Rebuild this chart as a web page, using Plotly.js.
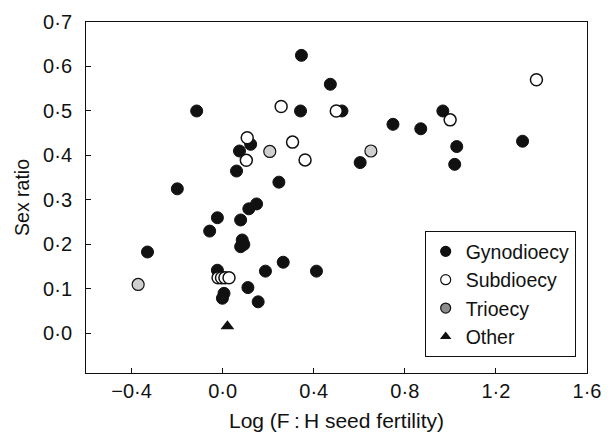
<!DOCTYPE html>
<html>
<head>
<meta charset="utf-8">
<script src="https://cdn.plot.ly/plotly-3.0.1.min.js"></script>
<style>html,body{margin:0;padding:0;background:#fff;}#chart{width:611px;height:432px;}</style>
</head>
<body>
<div id="chart"></div>
<script>
// Gynodioecy (filled black circles)
const gynoX = [0.346, 0.473, -0.114, 0.342, 0.524, 0.123, 0.074, 0.061, 0.247, -0.199,
               0.748, 0.870, 0.967, 1.028, 1.019, 1.317, 0.604, 0.149, 0.115, -0.023,
               0.079, -0.057, 0.086, 0.093, 0.079, -0.330, -0.023, 0.188, 0.266, 0.412,
               0.111, 0.006, -0.001, 0.156];
const gynoY = [0.625, 0.560, 0.500, 0.500, 0.500, 0.425, 0.410, 0.365, 0.340, 0.325,
               0.470, 0.460, 0.500, 0.420, 0.380, 0.432, 0.384, 0.291, 0.280, 0.260,
               0.255, 0.230, 0.210, 0.200, 0.195, 0.183, 0.142, 0.140, 0.160, 0.140,
               0.103, 0.090, 0.079, 0.071];
// Subdioecy (open circles)
const subX = [0.257, 0.499, 0.108, 0.104, 0.307, 0.362, 1.378, 0.999, -0.020, -0.005, 0.010, 0.028];
const subY = [0.510, 0.500, 0.440, 0.389, 0.430, 0.390, 0.570, 0.480, 0.125, 0.125, 0.125, 0.125];
// Trioecy (grey circles)
const trioX = [0.207, 0.651, -0.371];
const trioY = [0.409, 0.410, 0.110];
// Other (triangle)
const otherX = [0.021];
const otherY = [0.016];

const seriesNames = ['Gynodioecy', 'Subdioecy', 'Trioecy', 'Other'];
const xTickVals = [-0.4, 0.0, 0.4, 0.8, 1.2, 1.6];
const xTickText = ['\u22120\u00b74', '0\u00b70', '0\u00b74', '0\u00b78', '1\u00b72', '1\u00b76'];
const yTickVals = [0.0, 0.1, 0.2, 0.3, 0.4, 0.5, 0.6, 0.7];
const yTickText = ['0\u00b70', '0\u00b71', '0\u00b72', '0\u00b73', '0\u00b74', '0\u00b75', '0\u00b76', '0\u00b77'];

const FONT = 'Liberation Sans, Arial, Helvetica, sans-serif';
const INK = '#111111';

const styles = [
  {symbol: 'circle', color: INK, line: {color: INK, width: 1}, legendColor: INK},
  {symbol: 'circle', color: '#ffffff', line: {color: INK, width: 1.5}, legendColor: '#ffffff'},
  {symbol: 'circle', color: '#cfcfcf', line: {color: INK, width: 1.2}, legendColor: '#8c8c8c'},
  {symbol: 'triangle-up', color: INK, line: {color: INK, width: 0}, legendColor: INK}
];
const dataX = [gynoX, subX, trioX, otherX];
const dataY = [gynoY, subY, trioY, otherY];

const traces = [];
for (let i = 0; i < 4; i++) {
  traces.push({
    type: 'scatter', mode: 'markers', x: dataX[i], y: dataY[i], name: seriesNames[i],
    showlegend: false, hoverinfo: 'x+y',
    marker: {symbol: styles[i].symbol, size: 12, color: styles[i].color, line: styles[i].line}
  });
}
// legend entries (smaller markers as in the reference key)
for (let i = 0; i < 4; i++) {
  traces.push({
    type: 'scatter', mode: 'markers', x: [null], y: [null], name: seriesNames[i],
    showlegend: true,
    marker: {symbol: styles[i].symbol, size: 10, color: styles[i].legendColor,
             line: {color: INK, width: i === 3 ? 0 : 1.2}}
  });
}

const layout = {
  width: 611, height: 432,
  margin: {l: 86, r: 24, t: 22, b: 59, pad: 0},
  paper_bgcolor: '#ffffff', plot_bgcolor: '#ffffff',
  font: {family: FONT, color: INK, size: 20},
  showlegend: true,
  legend: {
    x: 0.676, y: 0.404, xanchor: 'left', yanchor: 'top',
    bgcolor: '#ffffff', bordercolor: INK, borderwidth: 1,
    font: {family: FONT, size: 19.5, color: INK},
    itemwidth: 30, tracegroupgap: 0
  },
  xaxis: {
    range: [-0.6, 1.6], tickmode: 'array', tickvals: xTickVals, ticktext: xTickText,
    ticks: 'inside', ticklen: 5, tickwidth: 1, tickcolor: INK,
    showline: true, linecolor: INK, linewidth: 1, mirror: true,
    showgrid: false, zeroline: false, automargin: false,
    tickfont: {family: FONT, size: 20, color: INK},
    title: {text: 'Log (F\u2009:\u2009H seed fertility)', font: {family: FONT, size: 21, color: INK}, standoff: 14}
  },
  yaxis: {
    range: [-0.089, 0.7], tickmode: 'array', tickvals: yTickVals, ticktext: yTickText,
    ticks: 'inside', ticklen: 5, tickwidth: 1, tickcolor: INK,
    showline: true, linecolor: INK, linewidth: 1, mirror: true,
    showgrid: false, zeroline: false, automargin: false,
    tickfont: {family: FONT, size: 20, color: INK},
    ticklabelstandoff: 9,
    title: {text: 'Sex ratio', font: {family: FONT, size: 19.5, color: INK}, standoff: 8}
  }
};

Plotly.newPlot('chart', traces, layout, {displayModeBar: false, staticPlot: true});
</script>
</body>
</html>
